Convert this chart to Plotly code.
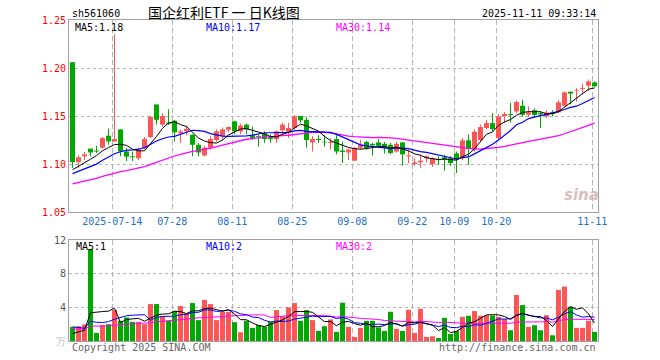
import numpy as np
import plotly.graph_objects as go

# ---------------- data ----------------
opens = [1.206, 1.102, 1.108, 1.116, 1.114, 1.117, 1.1295, 1.1235, 1.136, 1.113,
         1.108, 1.106, 1.117, 1.128, 1.162, 1.141, 1.143, 1.145, 1.132, 1.134,
         1.1305, 1.120, 1.109, 1.117, 1.125, 1.129, 1.1357, 1.1444, 1.134, 1.141,
         1.130, 1.129, 1.132, 1.128, 1.126, 1.135, 1.133, 1.1375, 1.150, 1.146,
         1.1225, 1.126, 1.123, 1.122, 1.126, 1.114, 1.112, 1.1035, 1.117, 1.123,
         1.121, 1.1225, 1.121, 1.120, 1.113, 1.1225, 1.108, 1.100, 1.1017, 1.106,
         1.100, 1.105, 1.107, 1.106, 1.111, 1.106, 1.1246, 1.115, 1.125, 1.1375,
         1.1426, 1.127, 1.150, 1.152, 1.1548, 1.1607, 1.1513, 1.156, 1.153, 1.1496,
         1.154, 1.1538, 1.1607, 1.1753, 1.176, 1.178, 1.1816, 1.185]
highs = [1.206, 1.109, 1.1125, 1.116, 1.119, 1.128, 1.137, 1.235, 1.136, 1.117,
         1.113, 1.117, 1.128, 1.150, 1.162, 1.153, 1.157, 1.146, 1.136, 1.140,
         1.131, 1.122, 1.119, 1.129, 1.136, 1.138, 1.139, 1.145, 1.142, 1.142,
         1.139, 1.1305, 1.134, 1.131, 1.135, 1.143, 1.143, 1.151, 1.150, 1.149,
         1.129, 1.130, 1.130, 1.127, 1.130, 1.1235, 1.116, 1.118, 1.125, 1.124,
         1.122, 1.126, 1.123, 1.122, 1.123, 1.123, 1.115, 1.106, 1.110, 1.109,
         1.107, 1.108, 1.1095, 1.108, 1.113, 1.127, 1.1305, 1.136, 1.141, 1.146,
         1.153, 1.152, 1.154, 1.1635, 1.166, 1.167, 1.160, 1.158, 1.155, 1.156,
         1.156, 1.1665, 1.1756, 1.1755, 1.179, 1.1836, 1.188, 1.186]
lows = [1.096, 1.096, 1.104, 1.108, 1.1115, 1.116, 1.120, 1.123, 1.108, 1.103,
        1.103, 1.104, 1.115, 1.127, 1.141, 1.139, 1.1405, 1.1235, 1.122, 1.130,
        1.108, 1.108, 1.108, 1.115, 1.123, 1.125, 1.133, 1.131, 1.131, 1.131,
        1.125, 1.118, 1.122, 1.122, 1.122, 1.130, 1.127, 1.135, 1.143, 1.117,
        1.113, 1.122, 1.118, 1.115, 1.110, 1.101, 1.104, 1.103, 1.115, 1.115,
        1.109, 1.118, 1.111, 1.110, 1.112, 1.098, 1.101, 1.098, 1.096, 1.1015,
        1.097, 1.099, 1.093, 1.098, 1.0906, 1.104, 1.099, 1.113, 1.123, 1.136,
        1.134, 1.125, 1.1427, 1.143, 1.153, 1.149, 1.149, 1.148, 1.1375, 1.148,
        1.1495, 1.153, 1.160, 1.162, 1.165, 1.174, 1.176, 1.180]
closes = [1.102, 1.107, 1.110, 1.112, 1.113, 1.127, 1.1235, 1.126, 1.113, 1.1076,
          1.107, 1.115, 1.126, 1.149, 1.146, 1.150, 1.142, 1.133, 1.134, 1.1365,
          1.120, 1.112, 1.117, 1.126, 1.134, 1.136, 1.1385, 1.134, 1.140, 1.136,
          1.127, 1.128, 1.126, 1.126, 1.134, 1.141, 1.1375, 1.1496, 1.1455, 1.125,
          1.126, 1.125, 1.1225, 1.123, 1.113, 1.1125, 1.115, 1.1167, 1.120, 1.116,
          1.1195, 1.119, 1.117, 1.1115, 1.121, 1.110, 1.109, 1.1017, 1.1035, 1.108,
          1.106, 1.104, 1.1045, 1.101, 1.1045, 1.1246, 1.1156, 1.1336, 1.1385, 1.1426,
          1.1365, 1.1496, 1.152, 1.151, 1.1646, 1.1513, 1.1537, 1.151, 1.1515, 1.1537,
          1.152, 1.1642, 1.1746, 1.1733, 1.1767, 1.179, 1.186, 1.181]
volumes = [1.68, 1.76, 1.96, 10.94, 0.96, 1.88, 2.0, 3.67, 2.4, 2.8,
           2.28, 2.28, 2.0, 4.39, 4.39, 2.95, 2.4, 3.55, 4.15, 3.27,
           4.51, 2.48, 4.87, 4.39, 2.48, 3.47, 3.47, 2.24, 1.04, 2.4,
           1.56, 1.92, 1.68, 2.28, 3.67, 2.95, 3.99, 4.51, 2.4, 3.67,
           2.48, 1.2, 1.76, 2.56, 1.08, 4.55, 1.68, 0.48, 1.56, 2.4,
           2.4, 1.6, 1.2, 3.47, 1.44, 1.2, 3.71, 0.96, 3.83, 0.48,
           0.56, 0.36, 2.75, 0.84, 1.2, 2.87, 3.0, 3.55, 3.0, 3.07,
           3.03, 2.87, 2.6, 1.28, 5.47, 4.27, 1.68, 1.88, 1.28, 3.07,
           0.68, 6.07, 6.47, 4.07, 1.56, 1.56, 2.4, 1.08]
# history before the first visible session (only feeds the moving averages)
prior_closes = [1.066, 1.064, 1.068, 1.067, 1.070, 1.069, 1.072, 1.071, 1.074, 1.073,
                1.076, 1.075, 1.078, 1.077, 1.079, 1.078, 1.077, 1.080, 1.082, 1.081,
                1.084, 1.086, 1.085, 1.088, 1.087, 1.090, 1.091, 1.093, 1.094]
prior_volumes = [1.2, 1.4, 1.1, 1.3, 1.0, 1.5, 1.2, 1.3, 1.1, 1.4,
                 1.2, 1.3, 1.0, 1.4, 1.3, 1.2, 1.1, 1.3, 1.4, 1.45,
                 2.2, 3.1, 2.6, 2.3, 2.2, 0.9, 0.8, 0.61, 0.41]
tick_index = [7, 17, 27, 37, 47, 57, 64, 71, 87]
tick_labels = ["2025-07-14", "07-28", "08-11", "08-25", "09-08", "09-22", "10-09", "10-20", "11-11"]
price_ticks = [1.05, 1.10, 1.15, 1.20, 1.25]
vol_ticks = [0, 4, 8, 12]
vol_tick_labels = ["万", "4", "8", "12"]
vol_ma_labels = ["MA5:1", "MA10:2", "MA30:2"]
code = "sh561060"
title = "国企红利ETF 一 日K线图"
stamp = "2025-11-11 09:33:14"

# ---------------- derived ----------------
n = len(closes)
assert n == len(opens) == len(highs) == len(lows) == len(volumes) == 88
o = np.array(opens); h = np.array(highs); l = np.array(lows); c = np.array(closes)
v = np.array(volumes)
idx = np.arange(n)

def ma(hist, vals, k):
    full = np.concatenate([np.array(hist), np.array(vals)])
    out = np.convolve(full, np.ones(k) / k, mode="valid")
    return out[-len(vals):]

ma5, ma10, ma30 = ma(prior_closes, c, 5), ma(prior_closes, c, 10), ma(prior_closes, c, 30)
vma5, vma10, vma30 = ma(prior_volumes, v, 5), ma(prior_volumes, v, 10), ma(prior_volumes, v, 30)

UP, DOWN = "#ff5555", "#00a800"
up = c >= o
colors = [UP if u else DOWN for u in up]

W, H = 660, 360
L_M, R_M, T_M, B_M = 69, 62, 20, 19
PW, PH = W - L_M - R_M, H - T_M - B_M
px_per = 6.0
c0_px = 72.5
xr = [(L_M - c0_px) / px_per, (W - R_M - c0_px) / px_per]

def fx(px):
    return (px - L_M) / PW

def fy(py):
    return (H - B_M - py) / PH

fig = go.Figure()

# wicks
for flag, col in ((True, UP), (False, DOWN)):
    xs, ys = [], []
    for i in idx[up == flag]:
        xs += [i, i, None]
        ys += [l[i], h[i], None]
    fig.add_trace(go.Scatter(x=xs, y=ys, mode="lines", line=dict(color=col, width=1),
                             xaxis="x", yaxis="y", hoverinfo="skip"))
# bodies
body_base = np.minimum(o, c)
body_h = np.maximum(np.abs(c - o), 0.0007)
fig.add_trace(go.Bar(x=idx, y=body_h, base=body_base, width=0.84,
                     marker=dict(color=colors, line=dict(width=0)), xaxis="x", yaxis="y"))
# MA lines
for arr, col, wd in ((ma30, "#ff00ff", 1.3), (ma10, "#0000ff", 1.2), (ma5, "#000000", 1.0)):
    fig.add_trace(go.Scatter(x=idx, y=arr, mode="lines", line=dict(color=col, width=wd),
                             xaxis="x", yaxis="y", hoverinfo="skip"))
# volume
fig.add_trace(go.Bar(x=idx, y=v, width=0.84, marker=dict(color=colors, line=dict(width=0)),
                     xaxis="x2", yaxis="y2"))
for arr, col in ((vma30, "#ff00ff"), (vma10, "#0000ff"), (vma5, "#000000")):
    fig.add_trace(go.Scatter(x=idx, y=arr, mode="lines", line=dict(color=col, width=1),
                             xaxis="x2", yaxis="y2", hoverinfo="skip"))

grid_x = [t - 0.37 for t in tick_index]
MONO = "DejaVu Sans Mono"
axis_common = dict(showline=True, mirror=True, linecolor="#a0a0a0", linewidth=1,
                   zeroline=False, ticks="", fixedrange=True)
fig.update_layout(
    width=W, height=H, margin=dict(l=L_M, r=R_M, t=T_M, b=B_M),
    paper_bgcolor="white", plot_bgcolor="white", showlegend=False, barmode="overlay",
    xaxis=dict(domain=[0, 1], range=xr, tickvals=grid_x, ticktext=tick_labels,
               showgrid=True, gridcolor="#b4b4b4", griddash="5px,3px", gridwidth=1,
               tickfont=dict(family=MONO, size=10, color="#1a6fd0"), anchor="y",
               **axis_common),
    yaxis=dict(domain=[fy(212), 1], range=[1.05, 1.25], tickvals=price_ticks,
               ticktext=["%.2f" % t for t in price_ticks],
               showgrid=True, gridcolor="#b4b4b4", griddash="dot", gridwidth=1,
               tickfont=dict(family=MONO, size=10, color="#ff0000"), anchor="x",
               **axis_common),
    xaxis2=dict(domain=[0, 1], range=xr, tickvals=grid_x, showticklabels=False,
                showgrid=True, gridcolor="#b4b4b4", griddash="5px,3px", gridwidth=1,
                anchor="y2", matches="x", **axis_common),
    yaxis2=dict(domain=[0, fy(240)], range=[0, 12], tickvals=vol_ticks,
                ticktext=[('<span style="color:#c0c0c0">%s</span>' % t) if t == "万" else t
                          for t in vol_tick_labels],
                showgrid=True, gridcolor="#b4b4b4", griddash="dot", gridwidth=1,
                tickfont=dict(family=MONO, size=10, color="#555555"), anchor="x2",
                **axis_common),
)

def note(text, px, py, color="#000000", size=10, family=MONO, anchor="left", **kw):
    fig.add_annotation(text=text, x=fx(px), y=fy(py), xref="paper", yref="paper",
                       xanchor=anchor, yanchor="middle", showarrow=False,
                       font=dict(family=family, size=size, color=color), **kw)

note(code, 70, 13, size=10)
note(title, 224, 12, size=14, family="Noto Sans CJK SC", anchor="center")
note(stamp, 598, 13, size=10, anchor="right")
note("MA5:%.2f" % ma5[-1], 73, 27)
note("MA10:%.2f" % ma10[-1], 204, 27, color="#0000ff")
note("MA30:%.2f" % ma30[-1], 334, 27, color="#ff00ff")
note(vol_ma_labels[0], 74, 246)
note(vol_ma_labels[1], 204, 246, color="#0000ff")
note(vol_ma_labels[2], 334, 246, color="#ff00ff")
note("Copyright 2025 SINA.COM", 70, 347, color="#666666")
note("http://finance.sina.com.cn", 598, 347, color="#666666", anchor="right")
note("<b><i>sina</i></b>", 581, 195, color="rgba(200,170,170,0.75)", size=15,
     family="DejaVu Sans", anchor="center")

fig.write_html("out.html", config={"displayModeBar": False, "staticPlot": True},
               post_script="document.body.style.margin='0';document.body.style.overflow='hidden';")
